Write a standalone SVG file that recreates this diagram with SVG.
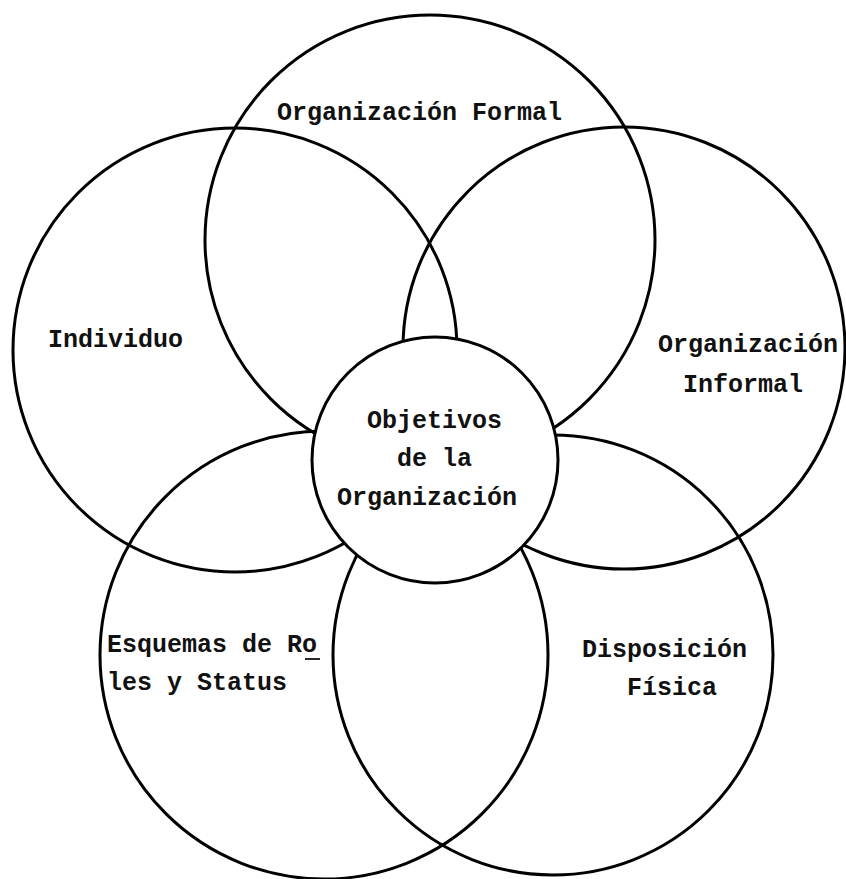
<svg xmlns="http://www.w3.org/2000/svg" width="846" height="879" viewBox="0 0 846 879">
<style>
.c{fill:none;stroke:#000;stroke-width:3}
.cc{fill:#fff;stroke:#000;stroke-width:3}
.t{font-family:"Liberation Mono","Courier New",monospace;font-weight:bold;font-size:25px;fill:#111}
</style>
<rect width="846" height="879" fill="#fff"/>
<g id="formal"><circle class="c" cx="430" cy="240" r="225"/><text class="t" x="277" y="120">Organización Formal</text></g>
<g id="individuo"><circle class="c" cx="235" cy="350" r="222"/><text class="t" x="48" y="347">Individuo</text></g>
<g id="informal"><circle class="c" cx="624" cy="348" r="221"/><text class="t" x="658" y="352">Organización</text><text class="t" x="683" y="392">Informal</text></g>
<g id="roles"><circle class="c" cx="324" cy="655" r="224"/><text class="t" x="107" y="652">Esquemas de Ro</text><line x1="305" y1="659" x2="320" y2="659" stroke="#111" stroke-width="1.8"/><text class="t" x="107" y="690">les y Status</text></g>
<g id="fisica"><circle class="c" cx="553" cy="655" r="220"/><text class="t" x="582" y="657">Disposición</text><text class="t" x="627" y="695">Física</text></g>
<g id="objetivos"><circle class="cc" cx="435" cy="460" r="123"/><text class="t" x="367" y="428">Objetivos</text><text class="t" x="397" y="466">de la</text><text class="t" x="337" y="505">Organización</text></g>
<g id="connectors"></g>
</svg>
